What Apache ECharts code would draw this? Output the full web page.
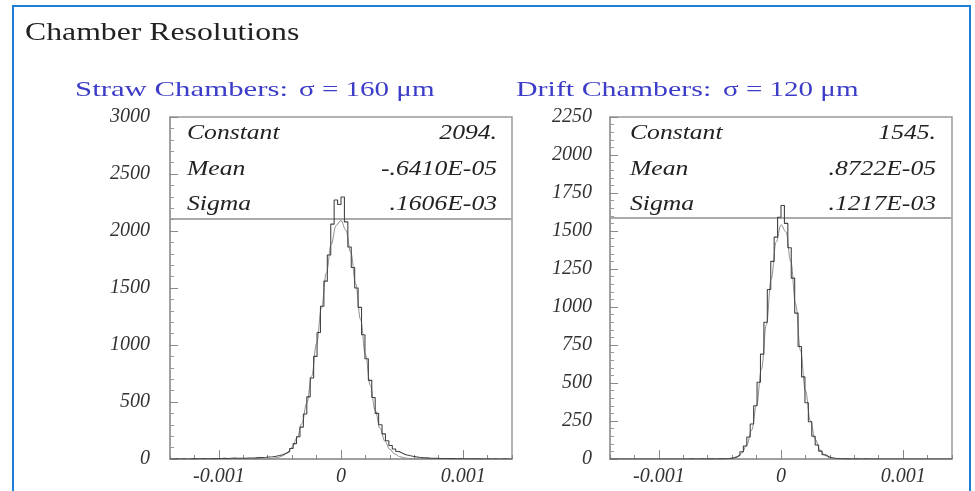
<!DOCTYPE html>
<html>
<head>
<meta charset="utf-8">
<script src="https://cdn.jsdelivr.net/npm/echarts@6/dist/echarts.min.js"></script>
<style>
  html, body { margin: 0; padding: 0; background: #fff; }
  #chart { width: 975px; height: 491px; }
</style>
</head>
<body>
<div id="chart"></div>
<script>
// histogram binning (100 bins over the x range)
const xMin = -0.0014;
const xMax = 0.0014;
const binWidth = 0.000028;

// bin contents
const strawCounts = [
  0, 1, 0, 2, 0, 1, 3, 1, 2, 4,
  2, 3, 5, 3, 4, 6, 5, 7, 8, 6,
  6, 7, 9, 9, 10, 12, 13, 15, 18, 20,
  24, 30, 38, 50, 66, 92, 135, 195, 280, 395,
  545, 710, 900, 1110, 1340, 1560, 1790, 2060, 2272, 2232,
  2298, 2080, 1860, 1680, 1500, 1330, 1090, 880, 690, 540,
  400, 300, 220, 160, 118, 88, 66, 50, 38, 30,
  24, 19, 15, 12, 10, 8, 7, 6, 5, 4,
  4, 3, 3, 2, 3, 2, 1, 2, 1, 1,
  1, 0, 1, 0, 1, 0, 0, 1, 0, 0
];
const driftCounts = [
  0, 0, 0, 0, 0, 0, 0, 0, 0, 0,
  0, 0, 0, 0, 0, 0, 0, 0, 0, 0,
  0, 0, 0, 1, 0, 0, 1, 0, 1, 1,
  0, 1, 1, 2, 3, 6, 12, 25, 48, 86,
  145, 230, 350, 505, 690, 900, 1115, 1300, 1460, 1590,
  1668, 1550, 1390, 1190, 960, 740, 540, 370, 245, 150,
  92, 52, 28, 15, 8, 5, 3, 2, 1, 1,
  0, 1, 0, 0, 1, 0, 0, 0, 0, 0,
  0, 0, 0, 0, 0, 0, 0, 0, 0, 0,
  0, 0, 0, 0, 0, 0, 0, 0, 0, 0
];

// gaussian fit curves, sampled every 0.00004 from -0.0008 to 0.0008
const fitStart = -0.0008;
const fitStep = 0.00004;
const strawFit = [
  0, 0, 0.1, 0.3, 0.9, 2.3, 5.5, 12.6, 27, 55,
  104, 185, 311, 491, 727, 1013, 1325, 1631, 1885, 2049,
  2092, 2008, 1812, 1536, 1224, 917, 645, 427, 266, 155,
  85, 44, 21, 10, 4, 1.7, 0.6, 0.2, 0, 0, 0
];
const driftFit = [
  0, 0, 0, 0, 0, 0, 0, 0.1, 0.5, 1.7,
  5.5, 15.7, 40, 93, 191, 355, 591, 883, 1185, 1426,
  1541, 1495, 1301, 1017, 713, 449, 254, 129, 59, 24,
  8.8, 2.9, 0.9, 0.2, 0, 0, 0, 0, 0, 0, 0
];

// tick labels
const xTickValues = [-0.001, 0, 0.001];
const xTickLabels = ['-0.001', '0', '0.001'];

const strawStats = [['Constant', '2094.'], ['Mean', '-.6410E-05'], ['Sigma', '.1606E-03']];
const driftStats = [['Constant', '1545.'], ['Mean', '.8722E-05'], ['Sigma', '.1217E-03']];

const serif = '"Liberation Serif", "Times New Roman", serif';
const axisGray = '#9a9a9a';
const labelFont = { fontFamily: serif, fontStyle: 'italic', fontSize: 20, color: '#333' };

function histData(counts) {
  const pts = counts.map((c, i) => [xMin + i * binWidth, c]);
  pts.push([xMax, counts[counts.length - 1]]);
  return pts;
}
function fitData(vals) {
  return vals.map((v, i) => [fitStart + i * fitStep, v]);
}
function xLabel(v) {
  for (let k = 0; k < xTickValues.length; k++) {
    if (Math.abs(v - xTickValues[k]) < 1e-9) return xTickLabels[k];
  }
  return '';
}

function mainX(gi) {
  return {
    type: 'value', gridIndex: gi, min: xMin, max: xMax, interval: 0.0002,
    axisLine: { onZero: false, lineStyle: { color: axisGray, width: 1.5 } },
    axisTick: { inside: true, length: 4, lineStyle: { color: '#888' } },
    axisLabel: Object.assign({ formatter: xLabel, margin: 8, showMinLabel: true, showMaxLabel: true }, labelFont),
    splitLine: { show: false }
  };
}
function majorX(gi) {
  return {
    type: 'value', gridIndex: gi, min: xMin, max: xMax, position: 'bottom',
    axisLine: { show: false, onZero: false },
    axisTick: { inside: true, length: 9, customValues: xTickValues, lineStyle: { color: '#888' } },
    axisLabel: { show: false },
    splitLine: { show: false }
  };
}
function yAx(gi, max, interval, margin) {
  return {
    type: 'value', gridIndex: gi, min: 0, max: max, interval: interval,
    axisLine: { show: true, onZero: false, lineStyle: { color: axisGray, width: 1.5 } },
    axisTick: { show: true, inside: true, length: 8, lineStyle: { color: '#888' } },
    minorTick: { show: true, splitNumber: 5, length: 4, lineStyle: { color: '#999' } },
    axisLabel: Object.assign({ margin: margin, formatter: v => String(v) }, labelFont),
    splitLine: { show: false }
  };
}

function statTexts(stats, xl, xr) {
  const ys = [133, 169, 204];
  const out = [];
  stats.forEach((s, i) => {
    out.push({ type: 'text', x: xl, y: ys[i], scaleX: 1.22, z: 5,
      style: { text: s[0], font: 'italic 21px ' + serif, fill: '#222', align: 'left', textAlign: 'left', verticalAlign: 'middle', textVerticalAlign: 'middle' } });
    out.push({ type: 'text', x: xr, y: ys[i], scaleX: 1.22, z: 5,
      style: { text: s[1], font: 'italic 21px ' + serif, fill: '#222', align: 'right', textAlign: 'right', verticalAlign: 'middle', textVerticalAlign: 'middle' } });
  });
  return out;
}

function blueText(text, x, size, sx) {
  return { type: 'text', x: x, y: 90, scaleX: sx,
    style: { text: text, font: size + 'px ' + serif, fill: '#3c3cc8', align: 'left', textAlign: 'left', verticalAlign: 'middle', textVerticalAlign: 'middle' } };
}

const chart = echarts.init(document.getElementById('chart'));
chart.setOption({
  animation: false,
  backgroundColor: '#fff',
  grid: [
    { left: 170, top: 117, width: 342, height: 342, show: true, borderColor: axisGray, borderWidth: 1.5 },
    { left: 610, top: 117, width: 342, height: 342, show: true, borderColor: axisGray, borderWidth: 1.5 }
  ],
  xAxis: [mainX(0), mainX(1), majorX(0), majorX(1)],
  yAxis: [yAx(0, 3000, 500, 20), yAx(1, 2250, 250, 18)],
  series: [
    { name: 'Straw', type: 'line', xAxisIndex: 0, yAxisIndex: 0, step: 'end', showSymbol: false,
      lineStyle: { color: '#444', width: 1.1 }, data: histData(strawCounts), z: 3 },
    { name: 'Straw fit', type: 'line', xAxisIndex: 0, yAxisIndex: 0, smooth: 0.4, smoothMonotone: 'x', showSymbol: false,
      lineStyle: { color: '#8c8c8c', width: 1 }, data: fitData(strawFit), z: 2 },
    { name: 'Drift', type: 'line', xAxisIndex: 1, yAxisIndex: 1, step: 'end', showSymbol: false,
      lineStyle: { color: '#444', width: 1.1 }, data: histData(driftCounts), z: 3 },
    { name: 'Drift fit', type: 'line', xAxisIndex: 1, yAxisIndex: 1, smooth: 0.4, smoothMonotone: 'x', showSymbol: false,
      lineStyle: { color: '#8c8c8c', width: 1 }, data: fitData(driftFit), z: 2 }
  ],
  graphic: [
    { type: 'polyline', shape: { points: [[13, 491], [13, 6], [970, 6], [970, 491]] },
      style: { stroke: '#1e7fd8', lineWidth: 2, fill: null } },
    { type: 'text', x: 25, y: 33, scaleX: 1.27,
      style: { text: 'Chamber Resolutions', font: '25px ' + serif, fill: '#222', align: 'left', textAlign: 'left', verticalAlign: 'middle', textVerticalAlign: 'middle' } },
    blueText('Straw Chambers:', 75, 22, 1.4),
    blueText('σ = 160 μm', 299, 22, 1.32),
    blueText('Drift Chambers:', 516, 22, 1.36),
    blueText('σ = 120 μm', 723, 22, 1.32),
    { type: 'line', shape: { x1: 170, y1: 219, x2: 512, y2: 219 }, style: { stroke: '#aaa', lineWidth: 2 } },
    { type: 'line', shape: { x1: 610, y1: 218, x2: 952, y2: 218 }, style: { stroke: '#aaa', lineWidth: 2 } }
  ].concat(statTexts(strawStats, 187, 497), statTexts(driftStats, 630, 936))
});
</script>
</body>
</html>
